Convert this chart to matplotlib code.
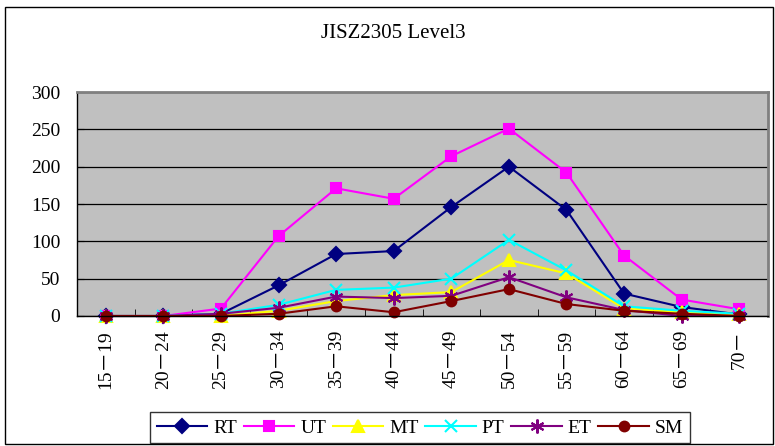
import matplotlib.pyplot as plt
from matplotlib.patches import Rectangle

# age groups and counts per series
ages = ['15－19', '20－24', '25－29', '30－34', '35－39', '40－44',
        '45－49', '50－54', '55－59', '60－64', '65－69', '70－']
rt = [0, 0, 3, 41, 83, 87, 146, 200, 142, 30, 12, 2]
ut = [0, 0, 10, 107, 171, 157, 214, 251, 192, 81, 22, 9]
mt = [0, 0, 0, 7, 20, 28, 32, 75, 57, 10, 5, 2]
pt = [0, 0, 3, 15, 35, 38, 50, 102, 61, 13, 7, 3]
et = [0, 0, 3, 11, 26, 24, 27, 52, 25, 8, 0, 0]
sm = [0, 0, 0, 3, 13, 5, 20, 36, 16, 7, 3, 0]

series = [
    ('RT', rt, '#000080', 'D', 7),
    ('UT', ut, '#FF00FF', 's', 7),
    ('MT', mt, '#FFFF00', '^', 8),
    ('PT', pt, '#00FFFF', 'x', 9),
    ('ET', et, '#800080', (6, 2, 0), 10),
    ('SM', sm, '#800000', 'o', 7),
]

plt.rcParams['font.family'] = ['Liberation Serif', 'Noto Sans CJK JP', 'DejaVu Serif']

fig = plt.figure(figsize=(7.75, 4.46), dpi=100)
ax = fig.add_axes([0.0994, 0.2915, 0.8916, 0.5022])
ax.set_facecolor('#C0C0C0')

x = list(range(len(ages)))
for name, vals, color, marker, ms in series:
    ax.plot(x, vals, color=color, marker=marker, markersize=ms,
            markeredgecolor=color, markerfacecolor=color,
            markeredgewidth=1.5, linewidth=1.5, label=name, clip_on=False)

ax.set_xlim(-0.5, len(ages) - 0.5)
ax.set_ylim(0, 300)
ax.set_yticks(range(0, 301, 50))
ax.set_yticklabels([str(v) for v in range(0, 301, 50)], fontsize=14)
ax.set_xticks(x)
ax.set_xticklabels(ages, rotation=90, fontsize=14)
ax.tick_params(axis='x', length=0, pad=10)
ax.set_xticks([i + 0.5 for i in x[:-1]], minor=True)
ax.tick_params(axis='x', which='minor', direction='in', length=5, color='black')
ax.tick_params(axis='y', direction='in', length=5, pad=12)
ax.grid(axis='y', color='black', linewidth=0.9)
ax.set_axisbelow(True)

for side in ['top', 'right']:
    ax.spines[side].set_color('#808080')
    ax.spines[side].set_linewidth(2)
for side in ['left', 'bottom']:
    ax.spines[side].set_color('black')
    ax.spines[side].set_linewidth(1)

fig.text(0.508, 0.925, 'JISZ2305 Level3', ha='center', va='center', fontsize=15)

leg = fig.legend(loc='center', bbox_to_anchor=(0.542, 0.961 - 0.92), ncol=6,
                 fontsize=14, frameon=True, fancybox=False, handlelength=2.6,
                 handletextpad=0.3, columnspacing=0.35, borderpad=0.35,
                 edgecolor='black')
leg.get_frame().set_linewidth(1)

# outer frame of the chart
fig.patches.append(Rectangle((0.007, 0.004), 0.99, 0.98, transform=fig.transFigure,
                             fill=False, edgecolor='black', linewidth=1))

fig.savefig('out.png', dpi=100)
